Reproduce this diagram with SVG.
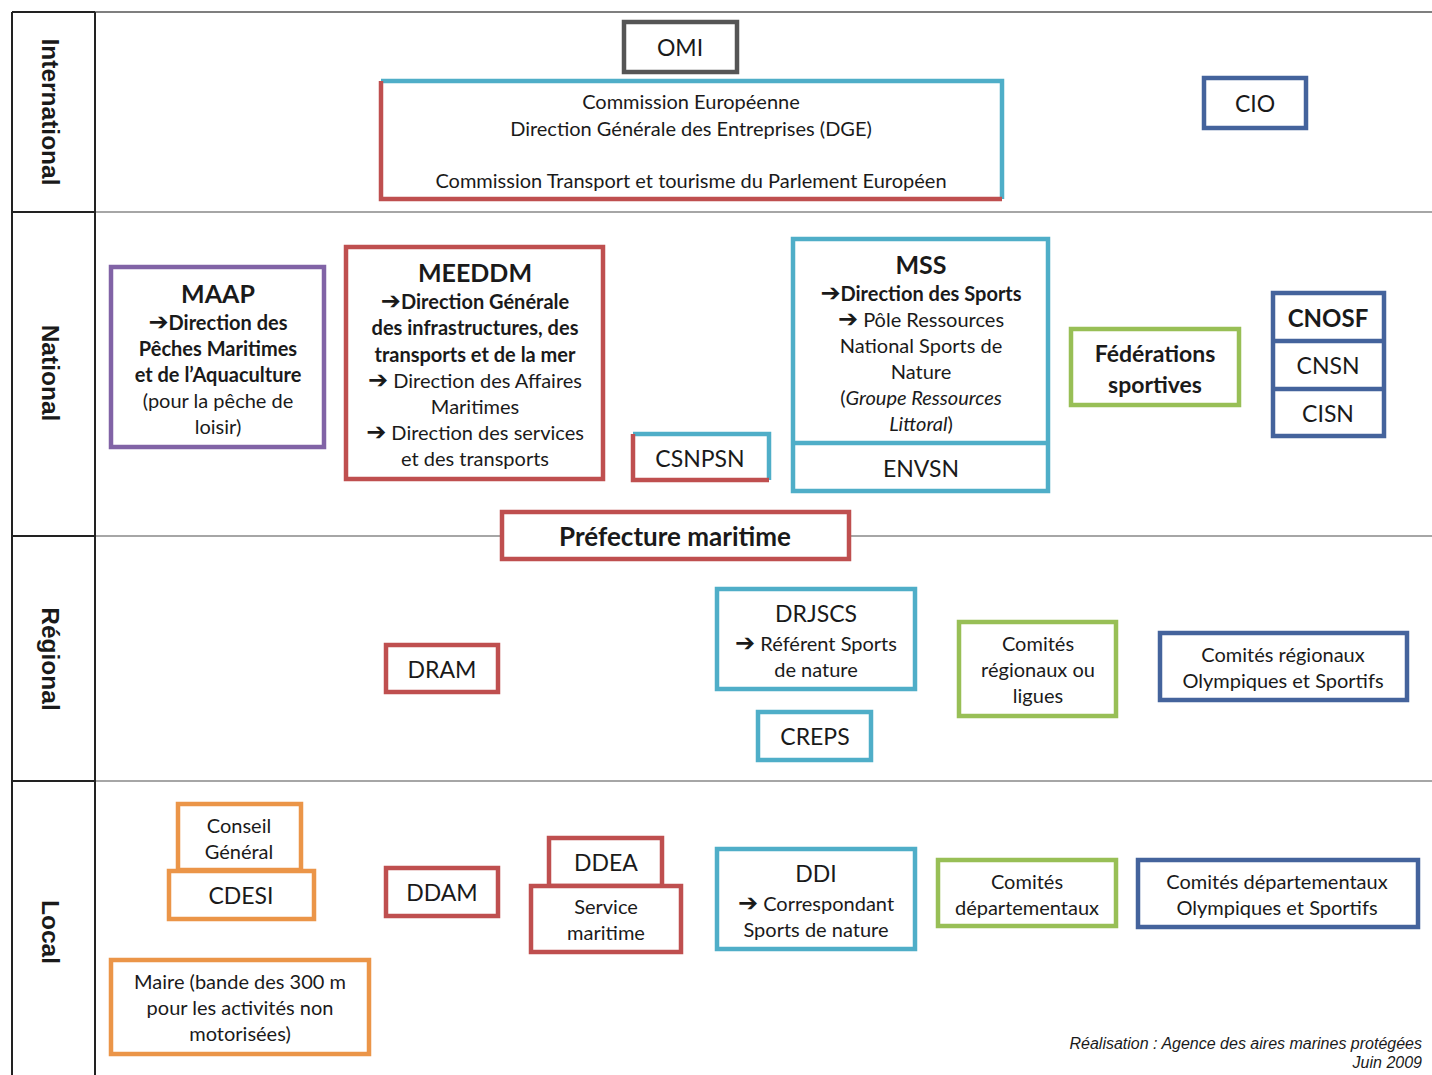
<svg xmlns="http://www.w3.org/2000/svg" width="1432" height="1075" viewBox="0 0 1432 1075">
<style>
text{font-family:Lato,"Open Sans","Liberation Sans",sans-serif;fill:#1a1a1a;text-anchor:middle;dominant-baseline:central}
.t{font-size:20px}
.b{font-weight:bold}
.l{font-size:23px}
.lb{font-size:25px;font-weight:bold}
.ar{font-family:"DejaVu Sans",sans-serif;font-weight:bold;font-size:24px}
.row{font-family:"Liberation Sans",Arial,sans-serif;font-size:24.5px;font-weight:bold}
.foot{font-family:"Liberation Sans",Arial,sans-serif;font-size:16px;font-style:italic;text-anchor:end}
rect{fill:#fff;stroke-width:4.5}
.red{stroke:#bf4f4f}
.blue{stroke:#4faec8}
.dblue{stroke:#44639c}
.green{stroke:#98bf56}
.purple{stroke:#8163a6}
.orange{stroke:#eb9548}
.gray{stroke:#555}
.seg{fill:none;stroke-width:4.5}
</style>
<rect x="0" y="0" width="1432" height="1075" style="fill:#fff;stroke:none"/>
<g id="grid">
<line x1="95" y1="12" x2="1432" y2="12" stroke="#555" stroke-width="1.5"/>
<line x1="95" y1="212" x2="1432" y2="212" stroke="#888" stroke-width="1.5"/>
<line x1="95" y1="536" x2="1432" y2="536" stroke="#888" stroke-width="1.5"/>
<line x1="95" y1="781" x2="1432" y2="781" stroke="#888" stroke-width="1.5"/>
<line x1="12" y1="12" x2="12" y2="1075" stroke="#222" stroke-width="2"/>
<line x1="95" y1="12" x2="95" y2="1075" stroke="#222" stroke-width="2"/>
<line x1="12" y1="12" x2="95" y2="12" stroke="#222" stroke-width="2"/>
<line x1="12" y1="212" x2="95" y2="212" stroke="#222" stroke-width="2"/>
<line x1="12" y1="536" x2="95" y2="536" stroke="#222" stroke-width="2"/>
<line x1="12" y1="781" x2="95" y2="781" stroke="#222" stroke-width="2"/>
<text class="row" transform="translate(50,112) rotate(90)">International</text>
<text class="row" transform="translate(50,373) rotate(90)">National</text>
<text class="row" transform="translate(50,659) rotate(90)">Régional</text>
<text class="row" transform="translate(50,932) rotate(90)">Local</text>
</g>
<g id="connectors"></g>
<g id="omi"><rect class="gray" x="624" y="22" width="113" height="50"/><text class="l" x="680" y="47">OMI</text></g>
<g id="commission">
<rect x="381" y="81" width="621" height="118" style="stroke:none"/>
<path class="seg blue" d="M381 81 H1002 V199"/>
<path class="seg red" d="M381 81 V199 H1002"/>
<text class="t" x="691" y="101">Commission Européenne</text>
<text class="t" x="691" y="128">Direction Générale des Entreprises (DGE)</text>
<text class="t" x="691" y="180">Commission Transport et tourisme du Parlement Européen</text>
</g>
<g id="cio"><rect class="dblue" x="1204" y="78" width="102" height="50"/><text class="l" x="1255" y="103">CIO</text></g>
<g id="maap">
<rect class="purple" x="111" y="267" width="213" height="180"/>
<text class="lb" x="218" y="293">MAAP</text>
<text class="t b" x="218" y="322"><tspan class="ar">➔</tspan>Direction des</text>
<text class="t b" x="218" y="348">Pêches Maritimes</text>
<text class="t b" x="218" y="374">et de l’Aquaculture</text>
<text class="t" x="218" y="400">(pour la pêche de</text>
<text class="t" x="218" y="426">loisir)</text>
</g>
<g id="meeddm">
<rect class="red" x="346" y="247" width="257" height="232"/>
<text class="lb" x="475" y="272">MEEDDM</text>
<text class="t b" x="475" y="301"><tspan class="ar">➔</tspan>Direction Générale</text>
<text class="t b" x="475" y="327">des infrastructures, des</text>
<text class="t b" x="475" y="354">transports et de la mer</text>
<text class="t" x="475" y="380"><tspan class="ar">➔</tspan> Direction des Affaires</text>
<text class="t" x="475" y="406">Maritimes</text>
<text class="t" x="475" y="432"><tspan class="ar">➔</tspan> Direction des services</text>
<text class="t" x="475" y="458">et des transports</text>
</g>
<g id="csnpsn">
<rect x="633" y="434" width="136" height="46" style="stroke:none"/>
<path class="seg blue" d="M633 434 H769 V480"/>
<path class="seg red" d="M633 434 V480 H769"/>
<text class="l" x="700" y="458">CSNPSN</text>
</g>
<g id="mss">
<rect class="blue" x="793" y="239" width="255" height="252"/>
<line x1="793" y1="443" x2="1048" y2="443" class="blue" stroke-width="4.5"/>
<text class="lb" x="921" y="264">MSS</text>
<text class="t b" x="921" y="293"><tspan class="ar">➔</tspan>Direction des Sports</text>
<text class="t" x="921" y="319"><tspan class="ar">➔</tspan> Pôle Ressources</text>
<text class="t" x="921" y="345">National Sports de</text>
<text class="t" x="921" y="371">Nature</text>
<text class="t" x="921" y="397">(<tspan font-style="italic">Groupe Ressources</tspan></text>
<text class="t" x="921" y="423"><tspan font-style="italic">Littoral</tspan>)</text>
<text class="l" x="921" y="468">ENVSN</text>
</g>
<g id="federations">
<rect class="green" x="1071" y="329" width="168" height="76"/>
<text class="b" x="1155" y="353" style="font-size:23px">Fédérations</text>
<text class="b" x="1155" y="384" style="font-size:23px">sportives</text>
</g>
<g id="cnosf">
<rect class="dblue" x="1273" y="293" width="111" height="143"/>
<line x1="1273" y1="341" x2="1384" y2="341" class="dblue" stroke-width="4.5"/>
<line x1="1273" y1="389" x2="1384" y2="389" class="dblue" stroke-width="4.5"/>
<text class="lb" x="1328" y="317" style="font-size:24px">CNOSF</text>
<text class="l" x="1328" y="365">CNSN</text>
<text class="l" x="1328" y="413">CISN</text>
</g>
<g id="prefecture"><rect class="red" x="502" y="512" width="347" height="47"/><text class="lb" x="675" y="536" style="font-size:26px">Préfecture maritime</text></g>
<g id="dram"><rect class="red" x="386" y="645" width="112" height="47"/><text class="l" x="442" y="669">DRAM</text></g>
<g id="drjscs">
<rect class="blue" x="717" y="589" width="198" height="100"/>
<text class="l" x="816" y="613">DRJSCS</text>
<text class="t" x="816" y="643"><tspan class="ar">➔</tspan> Référent Sports</text>
<text class="t" x="816" y="669">de nature</text>
</g>
<g id="creps"><rect class="blue" x="758" y="712" width="113" height="48"/><text class="l" x="815" y="736">CREPS</text></g>
<g id="comites-regionaux">
<rect class="green" x="959" y="622" width="157" height="94"/>
<text class="t" x="1038" y="643">Comités</text>
<text class="t" x="1038" y="669">régionaux ou</text>
<text class="t" x="1038" y="695">ligues</text>
</g>
<g id="cros">
<rect class="dblue" x="1160" y="633" width="247" height="67"/>
<text class="t" x="1283" y="654">Comités régionaux</text>
<text class="t" x="1283" y="680">Olympiques et Sportifs</text>
</g>
<g id="conseil">
<rect class="orange" x="178" y="804" width="123" height="66"/>
<text class="t" x="239" y="825">Conseil</text>
<text class="t" x="239" y="851">Général</text>
</g>
<g id="cdesi"><rect class="orange" x="169" y="871" width="145" height="48"/><text class="l" x="241" y="895">CDESI</text></g>
<g id="ddam"><rect class="red" x="386" y="868" width="112" height="48"/><text class="l" x="442" y="892">DDAM</text></g>
<g id="ddea"><rect class="red" x="549" y="838" width="113" height="48"/><text class="l" x="606" y="862">DDEA</text></g>
<g id="service-maritime">
<rect class="red" x="531" y="886" width="150" height="66"/>
<text class="t" x="606" y="906">Service</text>
<text class="t" x="606" y="932">maritime</text>
</g>
<g id="maire">
<rect class="orange" x="111" y="960" width="258" height="94"/>
<text class="t" x="240" y="981">Maire (bande des 300 m</text>
<text class="t" x="240" y="1007">pour les activités non</text>
<text class="t" x="240" y="1033">motorisées)</text>
</g>
<g id="ddi">
<rect class="blue" x="717" y="849" width="198" height="100"/>
<text class="l" x="816" y="873">DDI</text>
<text class="t" x="816" y="903"><tspan class="ar">➔</tspan> Correspondant</text>
<text class="t" x="816" y="929">Sports de nature</text>
</g>
<g id="comites-departementaux">
<rect class="green" x="938" y="860" width="178" height="66"/>
<text class="t" x="1027" y="881">Comités</text>
<text class="t" x="1027" y="907">départementaux</text>
</g>
<g id="cdos">
<rect class="dblue" x="1138" y="860" width="280" height="67"/>
<text class="t" x="1277" y="881">Comités départementaux</text>
<text class="t" x="1277" y="907">Olympiques et Sportifs</text>
</g>
<g id="footer">
<text class="foot" x="1422" y="1043">Réalisation : Agence des aires marines protégées</text>
<text class="foot" x="1422" y="1062">Juin 2009</text>
</g>
</svg>
